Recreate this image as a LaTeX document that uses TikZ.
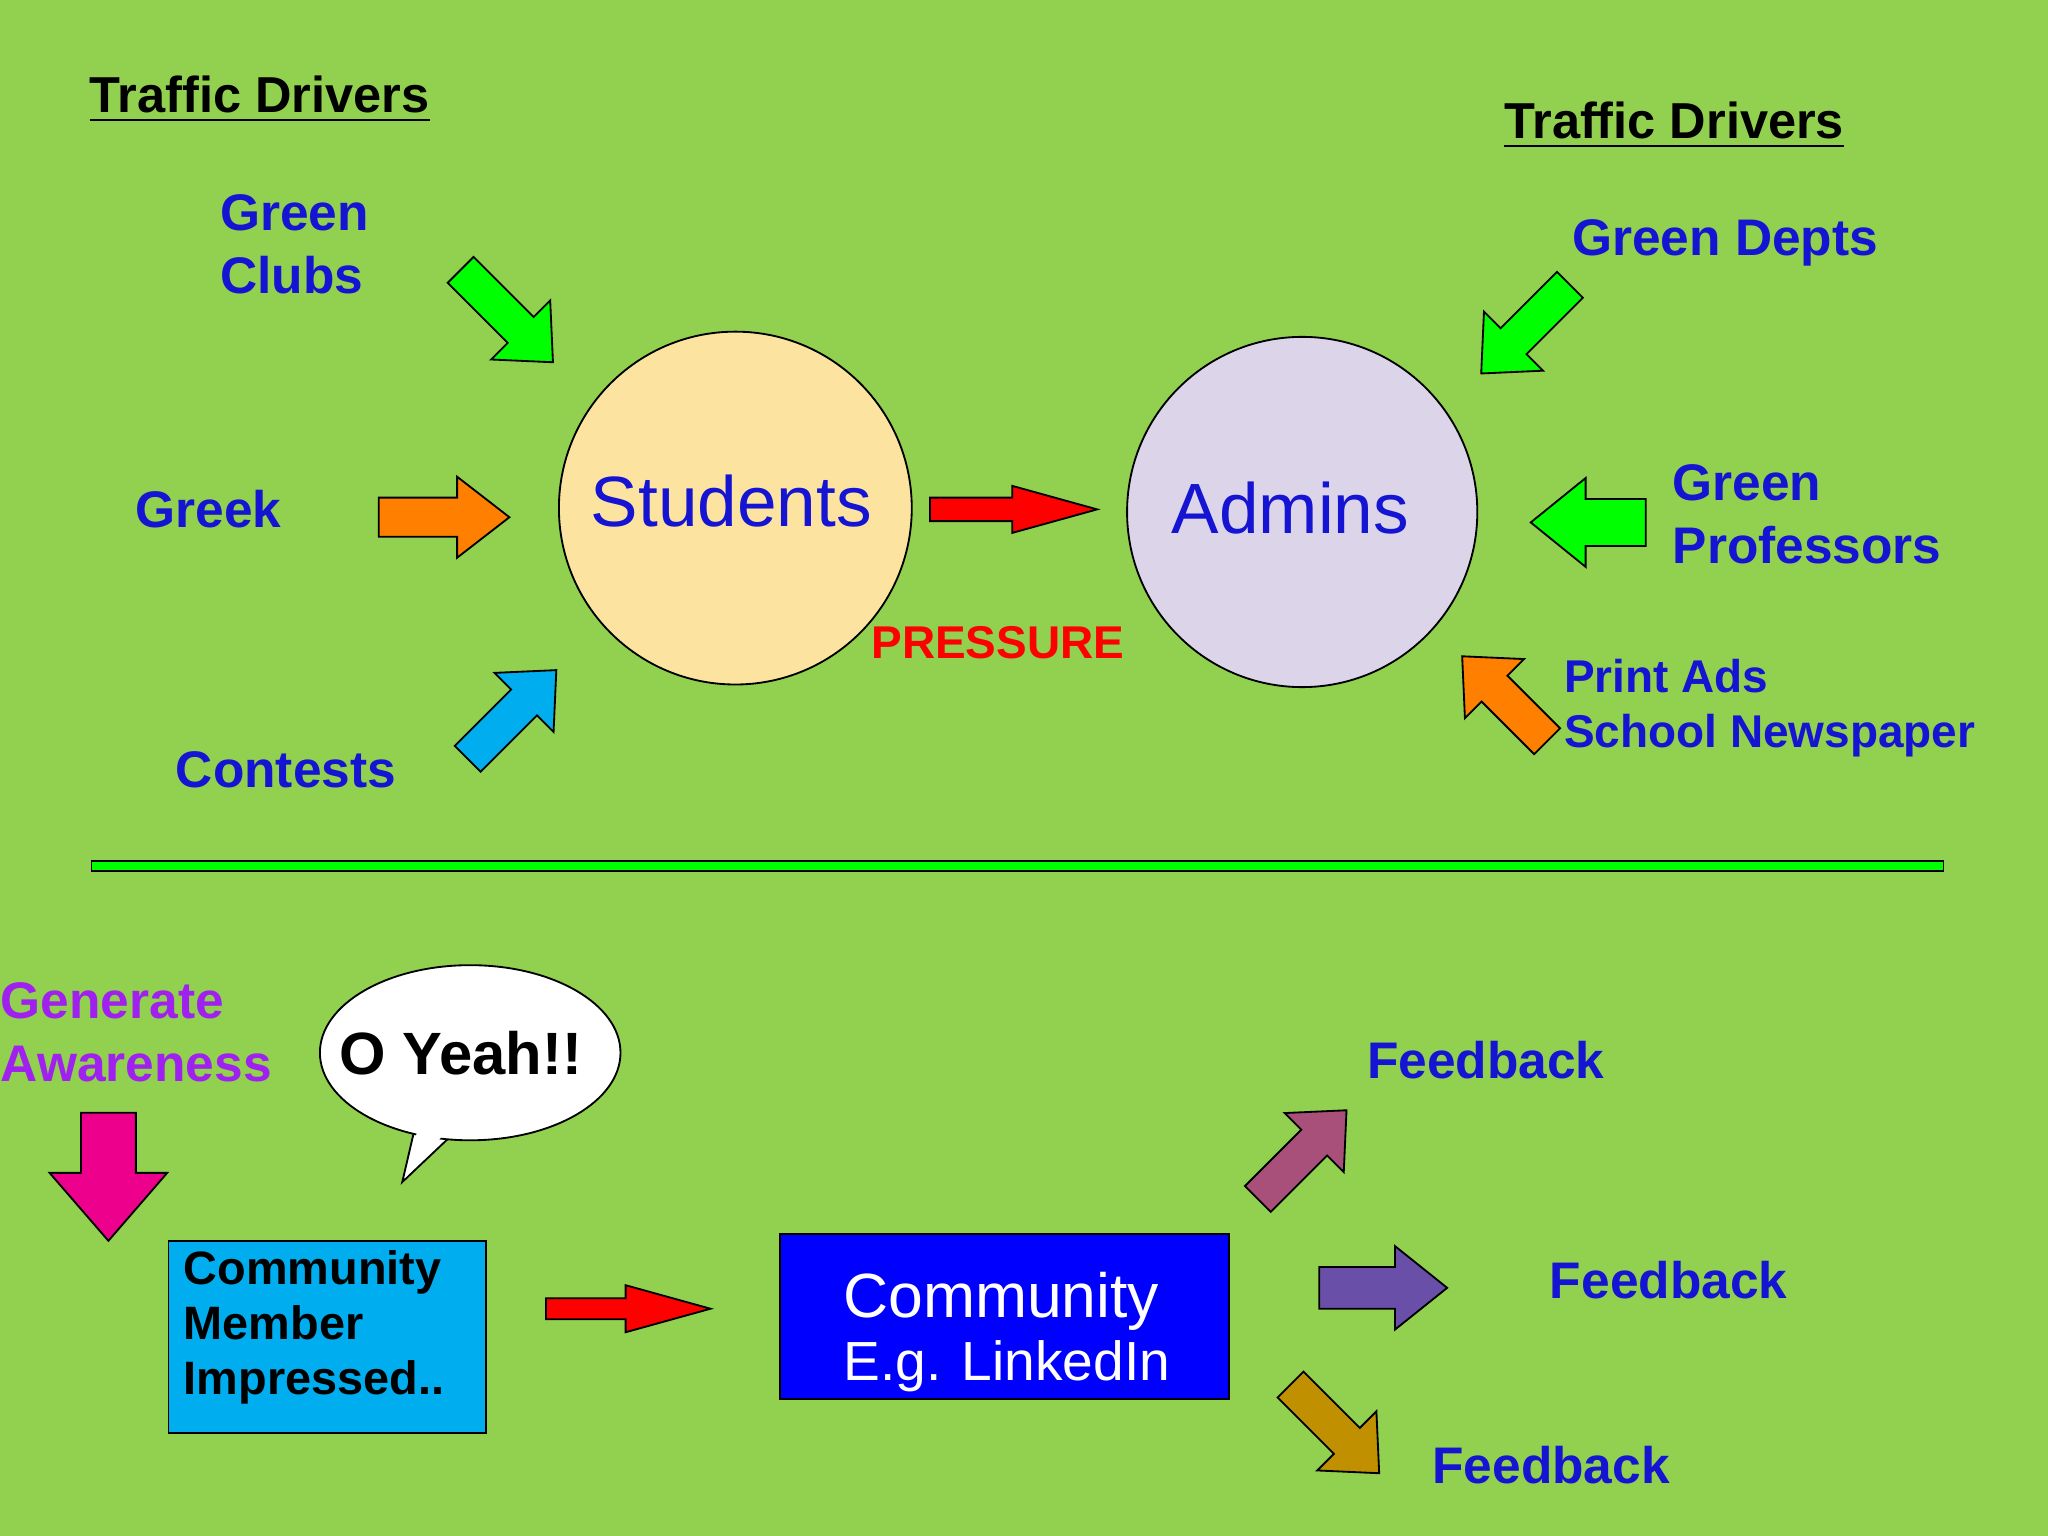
\documentclass[tikz,border=0pt]{standalone}
\usepackage{fontspec}
\setmainfont{Liberation Sans}
\usetikzlibrary{shapes.geometric}
\definecolor{bg}{HTML}{92D050}
\definecolor{tblue}{HTML}{1414D2}
\definecolor{tpurple}{HTML}{A020F0}
\definecolor{mauve}{HTML}{A84F7A}
\definecolor{violet2}{HTML}{6A4FA8}
\definecolor{olive2}{HTML}{C09000}
\definecolor{studc}{HTML}{FDE3A0}
\definecolor{admc}{HTML}{DCD5EA}
\newcommand{\barrow}[7]{%
\draw[fill=#3, shift={#1}, rotate=#2] (-#4,-#5) -- (#4-#7,-#5) -- (#4-#7,-#6) -- (#4,0) -- (#4-#7,#6) -- (#4-#7,#5) -- (-#4,#5) -- cycle;}
\tikzset{
 lbl/.style={font=\bfseries\fontsize{11.2pt}{13.7pt}\selectfont, text=tblue, align=left, anchor=west, inner sep=0},
 hdr/.style={font=\bfseries\fontsize{11pt}{13pt}\selectfont, text=black, anchor=west, inner sep=0},
}
\begin{document}
\begin{tikzpicture}[x=0.01cm,y=-0.01cm]
\fill[bg] (0,0) rectangle (1568,1176);
\useasboundingbox (0,0) rectangle (1568,1176);
% circles
\node[circle, draw, fill=studc, minimum size=2.7cm] (stud) at (563,389) {};
\node[circle, draw, fill=admc, minimum size=2.68cm] (adm) at (997,392) {};
\node[font=\fontsize{15.5pt}{18pt}\selectfont, text=tblue] at (560,384) {Students};
\node[font=\fontsize{15.5pt}{18pt}\selectfont, text=tblue] at (988,389) {Admins};
% headers
\node[hdr] (h1) at (68,76) {\underline{Traffic Drivers}};
\node[hdr] (h2) at (1151,96) {\underline{Traffic Drivers}};
\node[lbl] (gc) at (168,187) {Green\\Clubs};
\node[lbl] (gr) at (103,390) {Greek};
\node[lbl] (co) at (134,589) {Contests};
\node[lbl] (gd) at (1203,186) {Green Depts};
\node[lbl] (gp) at (1280,394) {Green\\Professors};
\node[lbl, font=\bfseries\fontsize{10pt}{12pt}\selectfont] (pa) at (1197,542) {Print Ads\\School Newspaper};
\node[font=\bfseries\fontsize{10pt}{12pt}\selectfont, text=red, inner sep=0] (pr) at (764,492) {PRESSURE};
% top arrows
\barrow{(388,242)}{-45}{green}{50}{14}{32}{35}
\barrow{(340,396)}{0}{orange}{50}{15}{31}{40}
\barrow{(392,547)}{45}{cyan}{48}{14}{32}{35}
\barrow{(776,390)}{0}{red}{64}{9}{18}{65}
\barrow{(1168,252)}{-135}{green}{48}{14}{32}{35}
\barrow{(1216,400)}{180}{green}{44}{18}{34}{42}
\barrow{(1152,535)}{135}{orange}{46}{14}{32}{35}
% divider
\draw[fill=green] (70,659) rectangle (1488,667);
% bottom
\node[lbl, text=tpurple] (ga) at (0,790) {Generate\\Awareness};
\barrow{(83,901)}{-90}{magenta}{49}{21}{45}{52}
\draw[fill=white] (318,862) -- (308,905) -- (345,870) -- cycle;
\node[ellipse, draw, fill=white, minimum width=2.3cm, minimum height=1.34cm] (bub) at (360,806) {};
\fill[white] (321,860) -- (310,902) -- (342,866) -- cycle;
\node[font=\bfseries\fontsize{13pt}{15pt}\selectfont] at (353,806) {O Yeah!!};
\draw[fill=cyan] (129,950) rectangle (372,1097);
\node[lbl, text=black, font=\bfseries\fontsize{10.2pt}{12pt}\selectfont] (cm) at (140,1016) {Community\\Member\\Impressed..};
\barrow{(481,1002)}{0}{red}{63}{8}{18}{65}
\draw[fill=blue] (597,945) rectangle (941,1071);
\node[anchor=west, inner sep=0, text=white, font=\fontsize{13.6pt}{15pt}\selectfont] (cmt) at (645,996) {Community};
\node[anchor=west, inner sep=0, text=white, font=\fontsize{12pt}{14pt}\selectfont] (li) at (645,1046) {E.g. LinkedIn};
\barrow{(997,884)}{45}{mauve}{48}{14}{32}{35}
\barrow{(1059,986)}{0}{violet2}{49}{16}{32}{40}
\barrow{(1022,1094)}{-45}{olive2}{48}{14}{32}{35}
\node[lbl] (f1) at (1046,812) {Feedback};
\node[lbl] (f2) at (1186,980) {Feedback};
\node[lbl] (f3) at (1096,1122) {Feedback};
\end{tikzpicture}
\end{document}
